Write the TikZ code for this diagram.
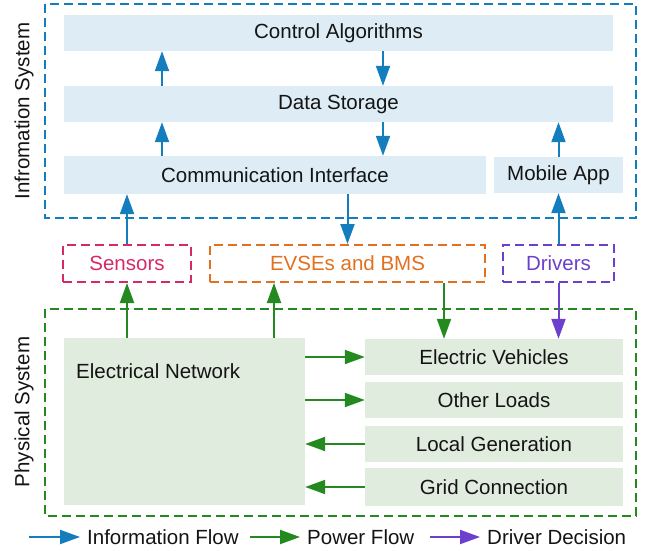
\documentclass[tikz,border=0pt]{standalone}
\usepackage{fontspec}
\setmainfont{Liberation Sans}
\usetikzlibrary{arrows.meta,positioning,calc}
\definecolor{infoblue}{RGB}{20,125,190}
\definecolor{infofill}{RGB}{222,237,245}
\definecolor{powergreen}{RGB}{36,137,30}
\definecolor{powerfill}{RGB}{224,236,222}
\definecolor{sensorpink}{RGB}{214,42,104}
\definecolor{evseorange}{RGB}{226,112,30}
\definecolor{driverpurple}{RGB}{108,64,204}
\definecolor{textdark}{RGB}{20,20,20}

\begin{document}
\begin{tikzpicture}[x=1pt, y=-1pt,
    lbl/.style={font=\fontsize{20.5}{24}\selectfont, text=textdark},
    ibox/.style={lbl, fill=infofill, inner sep=0pt, minimum height=36pt},
    pbox/.style={lbl, fill=powerfill, inner sep=0pt, minimum height=36pt},
    agent/.style={font=\fontsize{20.5}{24}\selectfont, draw, line width=2pt, dash pattern=on 9pt off 5pt, inner sep=0pt, minimum height=37pt},
    frame/.style={line width=2pt, dash pattern=on 9pt off 5pt},
    tip/.style={-{Triangle[length=20pt, width=14pt]}},
    info/.style={tip, line width=2pt, infoblue},
    power/.style={tip, line width=2pt, powergreen},
    driver/.style={tip, line width=2pt, driverpurple},
]
\useasboundingbox (0,0) rectangle (651,551);

% Information system
\draw[frame, infoblue] (45,4) rectangle (636,218);
\node[lbl, rotate=90] (infolbl) at (24,111) {Infromation System};
\node[ibox, minimum width=549pt] (ca) at (338.5,33) {Control Algorithms};
\node[ibox, minimum width=549pt] (ds) at (338.5,104) {Data Storage};
\node[ibox, minimum width=422pt, minimum height=38pt] (ci) at (275,175) {Communication Interface};
\node[ibox, minimum width=129pt] (app) at (558.5,175) {Mobile App};

% Agents
\node[agent, sensorpink, minimum width=128pt] (sens) at (127,263.5) {Sensors};
\node[agent, evseorange, minimum width=275pt] (evse) at (347.5,263.5) {EVSEs and BMS};
\node[agent, driverpurple, minimum width=111pt] (drv) at (558.5,263.5) {Drivers};

% Physical system
\draw[frame, powergreen] (45,309) rectangle (636,516);
\node[lbl, rotate=90] (physlbl) at (24,412) {Physical System};
\node[pbox, minimum width=241pt, minimum height=167pt] (en) at (184.5,421.5) {};
\node[lbl, anchor=west, inner sep=0pt] (entxt) at (76,371) {Electrical Network};
\node[pbox, minimum width=258pt] (ev) at (494,357) {Electric Vehicles};
\node[pbox, minimum width=258pt] (ol) at (494,400) {Other Loads};
\node[pbox, minimum width=258pt] (lg) at (494,444) {Local Generation};
\node[pbox, minimum width=258pt, minimum height=38pt] (gc) at (494,487) {Grid Connection};

% Columns for the vertical links
\coordinate (colA) at (162,0);
\coordinate (colB) at (383,0);
\coordinate (colC) at (274,0);
\coordinate (colD) at (444,0);

% Information flow
\draw[info] (ds.north -| colA) -- (ca.south -| colA);
\draw[info] (ca.south -| colB) -- (ds.north -| colB);
\draw[info] (ci.north -| colA) -- (ds.south -| colA);
\draw[info] (ds.south -| colB) -- (ci.north -| colB);
\draw[info] (app.north) -- (ds.south -| app);
\draw[info] (sens.north) -- (ci.south -| sens);
\draw[info] (ci.south -| evse) -- (evse.north);
\draw[info] (drv.north) -- (app.south);

% Power flow
\draw[power] (en.north -| sens) -- (sens.south);
\draw[power] (en.north -| colC) -- (evse.south -| colC);
\draw[power] (evse.south -| colD) -- (ev.north -| colD);
\draw[power] (en.east |- ev) -- (ev.west);
\draw[power] (en.east |- ol) -- (ol.west);
\draw[power] (lg.west) -- (en.east |- lg);
\draw[power] (gc.west) -- (en.east |- gc);

% Driver decision
\draw[driver] (drv.south) -- (ev.north -| drv);

% Legend
\coordinate (li) at (29,537);
\coordinate (lp) at (250,537);
\coordinate (ld) at (430,537);
\node[lbl, anchor=west, inner sep=0pt, inner xsep=7pt] (linfo) at (80,537) {Information Flow};
\node[lbl, anchor=west, inner sep=0pt, inner xsep=7pt] (lpower) at (300,537) {Power Flow};
\node[lbl, anchor=west, inner sep=0pt, inner xsep=7pt] (ldriver) at (480,537) {Driver Decision};
\draw[info] (li) -- (linfo.west);
\draw[power] (lp) -- (lpower.west);
\draw[driver] (ld) -- (ldriver.west);

\end{tikzpicture}
\end{document}
